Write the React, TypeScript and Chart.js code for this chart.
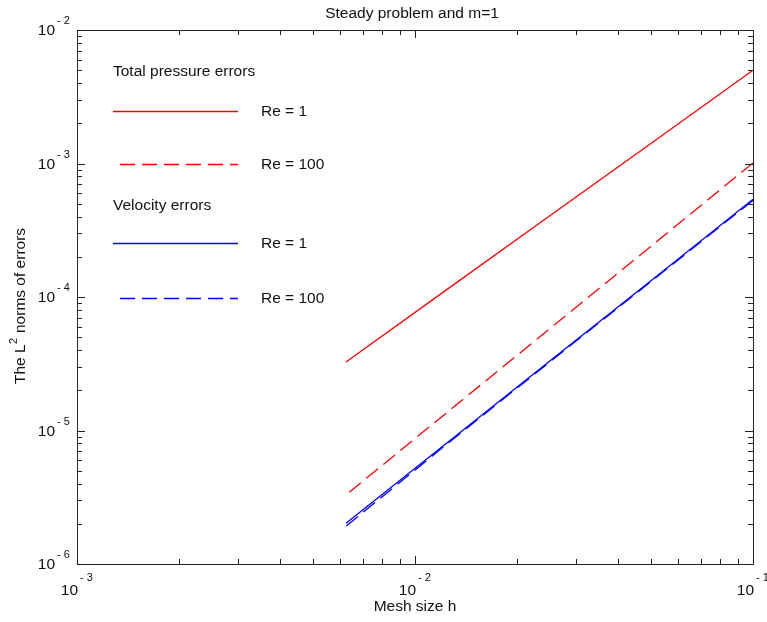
import React, { useEffect, useRef } from "react";
import { Chart, registerables } from "chart.js";

Chart.register(...registerables);

const meshSizes = [0.1, 0.05, 0.025, 0.0125, 0.00625];
const pressureRe1 = [5.0e-3, 1.42e-3, 4.04e-4, 1.15e-4, 3.26e-5];
const pressureRe100 = [1.01e-3, 2.41e-4, 5.77e-5, 1.38e-5, 3.29e-6];
const velocityRe1 = [5.4e-4, 1.33e-4, 3.3e-5, 8.15e-6, 2.02e-6];
const velocityRe100 = [5.3e-4, 1.31e-4, 3.25e-5, 8.0e-6, 1.92e-6];

const xMajorTicks = [1e-3, 1e-2, 1e-1];
const xTickExponents = ["-3", "-2", "-1"];
const yMajorTicks = [1e-6, 1e-5, 1e-4, 1e-3, 1e-2];
const yTickExponents = ["-6", "-5", "-4", "-3", "-2"];
const minorMultipliers = [2, 3, 4, 5, 6, 7, 8, 9];

const titleText = "Steady problem and m=1";
const xLabelText = "Mesh size h";
const yLabelParts = ["The L", "2", " norms of errors"];

const legendGroups = [
  { heading: "Total pressure errors", items: [{ label: "Re = 1", color: "#ff0000", dashed: false }, { label: "Re = 100", color: "#ff0000", dashed: true }] },
  { heading: "Velocity errors", items: [{ label: "Re = 1", color: "#0000ff", dashed: false }, { label: "Re = 100", color: "#0000ff", dashed: true }] },
];

const FONT = '"Liberation Sans", Arial, Helvetica, sans-serif';
const DASH = [15, 7];

const toPoints = (ys: number[]) => meshSizes.map((x, i) => ({ x, y: ys[i] }));

const decorPlugin = {
  id: "decor",
  afterDraw(chart: any) {
    const ctx = chart.ctx as CanvasRenderingContext2D;
    const xs = chart.scales.x;
    const ys = chart.scales.y;
    const a = chart.chartArea;
    ctx.save();
    // box
    ctx.strokeStyle = "#222";
    ctx.lineWidth = 1;
    ctx.setLineDash([]);
    ctx.strokeRect(Math.round(a.left) + 0.5, Math.round(a.top) + 0.5, Math.round(a.right - a.left), Math.round(a.bottom - a.top));
    // ticks
    const majorLen = 8;
    const minorLen = 5;
    ctx.beginPath();
    const xMinor: number[] = [];
    const yMinor: number[] = [];
    xMajorTicks.slice(0, -1).forEach((d) => minorMultipliers.forEach((m) => xMinor.push(d * m)));
    yMajorTicks.slice(0, -1).forEach((d) => minorMultipliers.forEach((m) => yMinor.push(d * m)));
    const xTick = (v: number, len: number) => {
      const px = Math.round(xs.getPixelForValue(v)) + 0.5;
      ctx.moveTo(px, a.bottom);
      ctx.lineTo(px, a.bottom - len);
      ctx.moveTo(px, a.top);
      ctx.lineTo(px, a.top + len);
    };
    const yTick = (v: number, len: number) => {
      const py = Math.round(ys.getPixelForValue(v)) + 0.5;
      ctx.moveTo(a.left, py);
      ctx.lineTo(a.left + len, py);
      ctx.moveTo(a.right, py);
      ctx.lineTo(a.right - len, py);
    };
    xMajorTicks.forEach((v) => xTick(v, majorLen));
    xMinor.forEach((v) => xTick(v, minorLen));
    yMajorTicks.forEach((v) => yTick(v, majorLen));
    yMinor.forEach((v) => yTick(v, minorLen));
    ctx.stroke();

    ctx.fillStyle = "#111";
    // x tick labels
    xMajorTicks.forEach((v, i) => {
      const px = xs.getPixelForValue(v);
      ctx.font = `15.5px ${FONT}`;
      ctx.textAlign = "right";
      ctx.textBaseline = "middle";
      ctx.fillText("10", px + 1, a.bottom + 27);
      ctx.font = `11px ${FONT}`;
      ctx.textAlign = "left";
      ctx.fillText("- " + xTickExponents[i].replace("-", ""), px + 3, a.bottom + 14);
    });
    // y tick labels
    yMajorTicks.forEach((v, i) => {
      const py = ys.getPixelForValue(v);
      ctx.font = `15.5px ${FONT}`;
      ctx.textAlign = "right";
      ctx.textBaseline = "middle";
      ctx.fillText("10", a.left - 22, py + 1);
      ctx.font = `11px ${FONT}`;
      ctx.textAlign = "left";
      ctx.fillText("- " + yTickExponents[i].replace("-", ""), a.left - 20, py - 9);
    });

    // title
    ctx.font = `15.5px ${FONT}`;
    ctx.textAlign = "center";
    ctx.textBaseline = "middle";
    ctx.fillText(titleText, 412, 14);
    // x label
    ctx.fillText(xLabelText, 415, 607);
    // y label (rotated)
    ctx.save();
    ctx.translate(21, 306);
    ctx.rotate(-Math.PI / 2);
    ctx.font = `15.5px ${FONT}`;
    const w0 = ctx.measureText(yLabelParts[0]).width;
    ctx.font = `11px ${FONT}`;
    const w1 = ctx.measureText(yLabelParts[1]).width;
    ctx.font = `15.5px ${FONT}`;
    const w2 = ctx.measureText(yLabelParts[2]).width;
    const total = w0 + w1 + 1 + w2;
    let cx = -total / 2;
    ctx.textAlign = "left";
    ctx.fillText(yLabelParts[0], cx, 0);
    cx += w0;
    ctx.font = `11px ${FONT}`;
    ctx.fillText(yLabelParts[1], cx + 0.5, -7);
    cx += w1 + 1;
    ctx.font = `15.5px ${FONT}`;
    ctx.fillText(yLabelParts[2], cx, 0);
    ctx.restore();

    // legend
    const headingY = [72, 206];
    const itemY = [[111, 164], [243, 297.5]];
    legendGroups.forEach((g, gi) => {
      ctx.font = `15.5px ${FONT}`;
      ctx.textAlign = "left";
      ctx.textBaseline = "middle";
      ctx.fillStyle = "#111";
      ctx.fillText(g.heading, 113, headingY[gi]);
      g.items.forEach((it, ii) => {
        const y = itemY[gi][ii];
        ctx.beginPath();
        ctx.strokeStyle = it.color;
        ctx.lineWidth = 1.3;
        ctx.setLineDash(it.dashed ? DASH : []);
        ctx.moveTo(it.dashed ? 120 : 113, Math.round(y) + 0.5);
        ctx.lineTo(238, Math.round(y) + 0.5);
        ctx.stroke();
        ctx.setLineDash([]);
        ctx.fillStyle = "#111";
        ctx.fillText(it.label, 261, y + 1);
      });
    });
    ctx.restore();
  },
};

export default function App() {
  const ref = useRef<HTMLCanvasElement | null>(null);
  useEffect(() => {
    document.body.style.margin = "0";
    const canvas = ref.current;
    if (!canvas) return;
    const mk = (label: string, data: number[], color: string, dashed: boolean) => ({
      label,
      data: toPoints(data),
      borderColor: color,
      backgroundColor: color,
      borderWidth: 1.3,
      borderDash: dashed ? DASH : [],
      pointRadius: 0,
      fill: false,
      tension: 0,
    });
    const chart = new Chart(canvas, {
      type: "line",
      data: {
        datasets: [
          mk("Pressure Re = 1", pressureRe1, "#ff0000", false),
          mk("Pressure Re = 100", pressureRe100, "#ff0000", true),
          mk("Velocity Re = 1", velocityRe1, "#0000ff", false),
          mk("Velocity Re = 100", velocityRe100, "#0000ff", true),
        ],
      },
      options: {
        responsive: false,
        animation: false,
        devicePixelRatio: 1,
        layout: { padding: { left: 77, right: 14, top: 30, bottom: 58 } },
        plugins: { legend: { display: false }, title: { display: false }, tooltip: { enabled: false } },
        scales: {
          x: { type: "logarithmic", min: 1e-3, max: 1e-1, display: false },
          y: { type: "logarithmic", min: 1e-6, max: 1e-2, display: false },
        },
      },
      plugins: [decorPlugin],
    } as any);
    return () => chart.destroy();
  }, []);
  return (
    <div style={{ position: "relative", width: 767, height: 622, background: "#fff" }}>
      <canvas ref={ref} width={767} height={622} style={{ display: "block" }} />
    </div>
  );
}
